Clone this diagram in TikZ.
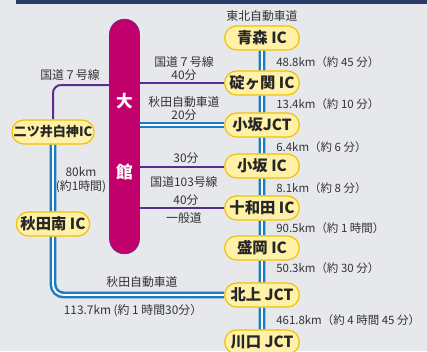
\documentclass[tikz,border=0pt]{standalone}
\usepackage{fontspec}
\setmainfont{Noto Sans CJK JP}
\usetikzlibrary{shapes.misc}
\pgfdeclarelayer{back}
\pgfdeclarelayer{bg}
\pgfsetlayers{back,bg,main}
\definecolor{bgc}{HTML}{E6E8EB}
\definecolor{navy}{HTML}{2B3A66}
\definecolor{pillc}{HTML}{C2006C}
\definecolor{roadpurple}{HTML}{5A2D91}
\definecolor{expblue}{HTML}{1B7DC1}
\definecolor{icfill}{HTML}{FFF1A8}
\definecolor{icedge}{HTML}{F2C200}
\definecolor{txt}{HTML}{333333}
\begin{document}
\begin{tikzpicture}[x=0.75pt,y=-0.75pt,
  station/.style={rounded rectangle, draw=icedge, line width=0.9pt, fill=icfill,
    minimum width=56pt, minimum height=18pt, inner sep=0pt,
    font=\fontsize{11.5}{12}\selectfont\bfseries, text=black!85},
  lbl/.style={font=\fontsize{8.9}{9.75}\selectfont, text=txt, inner sep=0pt},
  dist/.style={lbl, anchor=west, font=\fontsize{8.6}{9.75}\selectfont},
  exway/.style={draw=expblue, line width=1.9pt, double=white, double distance=1.4pt},
  natroad/.style={draw=roadpurple, line width=1.5pt},
  pilltext/.style={text=white, font=\fontsize{12.5}{13}\selectfont\bfseries}]
\useasboundingbox (0,0) rectangle (427,351);
\begin{pgfonlayer}{back}
\fill[bgc] (0,0) rectangle (427,351);
\fill[navy] (16,0) rectangle (427,4);
\end{pgfonlayer}

% stations
\node[station] (aomori) at (262,38) {青森 IC};
\node[station] (ikari) at (262,83) {碇ヶ関 IC};
\node[station] (kosakaj) at (262,125) {小坂JCT};
\node[station] (kosakai) at (262,166) {小坂 IC};
\node[station] (towada) at (262,208) {十和田 IC};
\node[station] (morioka) at (262,248) {盛岡 IC};
\node[station] (kitakami) at (262,295) {北上 JCT};
\node[station] (kawaguchi) at (262,342) {川口 JCT};
\node[station, minimum width=55pt, font=\fontsize{9.8}{10}\selectfont\bfseries] (futatsui) at (53,132) {二ツ井白神IC};
\node[station, minimum width=55pt] (akitam) at (53,224) {秋田南 IC};

% Odate pill
\node[rectangle, rounded corners=11.2pt, fill=pillc, draw=roadpurple, line width=0.5pt,
  minimum width=22.5pt, minimum height=176pt, inner sep=0pt] (odate) at (124.5,136.5) {};
\node[pilltext] (dai) at (124.5,101) {大};
\node[pilltext] (kan) at (124.5,172) {館};

% connectors
\begin{pgfonlayer}{bg}
\draw[exway] (aomori) -- (ikari);
\draw[exway] (ikari) -- (kosakaj);
\draw[exway] (kosakaj) -- (kosakai);
\draw[exway] (kosakai) -- (towada);
\draw[exway] (towada) -- (morioka);
\draw[exway] (morioka) -- (kitakami);
\draw[exway] (kitakami) -- (kawaguchi);
\draw[natroad] (odate.east |- ikari) -- (ikari.west);
\draw[natroad, rounded corners=6pt] (odate.west |- 0,85) -| (futatsui.north);
\draw[exway] (odate.east |- kosakaj) -- (kosakaj.west);
\draw[natroad] (odate.east |- 0,167) -- (kosakai.west |- 0,167);
\draw[natroad] (odate.east |- towada) -- (towada.west);
\draw[exway] (futatsui) -- (akitam);
\draw[exway, rounded corners=8pt] (akitam.south) |- (kitakami.west);
\end{pgfonlayer}

% labels
\node[lbl] (tohoku) at (262,16) {東北自動車道};
\node[dist] (d1) at (276,62) {48.8km（約 45 分）};
\node[dist] (d2) at (276,104) {13.4km（約 10 分）};
\node[dist] (d3) at (276,147) {6.4km（約 6 分）};
\node[dist] (d4) at (276,188) {8.1km（約 8 分）};
\node[dist] (d5) at (276,228) {90.5km（約 1 時間）};
\node[dist] (d6) at (276,268) {50.3km（約 30 分）};
\node[dist] (d7) at (276,320) {461.8km（約 4 時間 45 分）};

\node[lbl, align=center] (r7r) at (184,68.5) {国道７号線\\40分};
\node[lbl, align=center] (akr) at (184,108.5) {秋田自動車道\\20分};
\node[lbl] (m30) at (186,158.5) {30分};
\node[lbl] (r103) at (184,182) {国道103号線};
\node[lbl] (m40) at (186,200) {40分};
\node[lbl] (ippan) at (184,218) {一般道};

\node[lbl] (r7l) at (70,75) {国道７号線};
\node[lbl, align=center, font=\fontsize{8.9}{10.5}\selectfont] (d80) at (81,180) {80km\\(約1時間)};
\node[lbl] (akb) at (142,282) {秋田自動車道};
\node[lbl] (d113) at (133,311) {113.7km (約 1 時間30分）};
\end{tikzpicture}
\end{document}
